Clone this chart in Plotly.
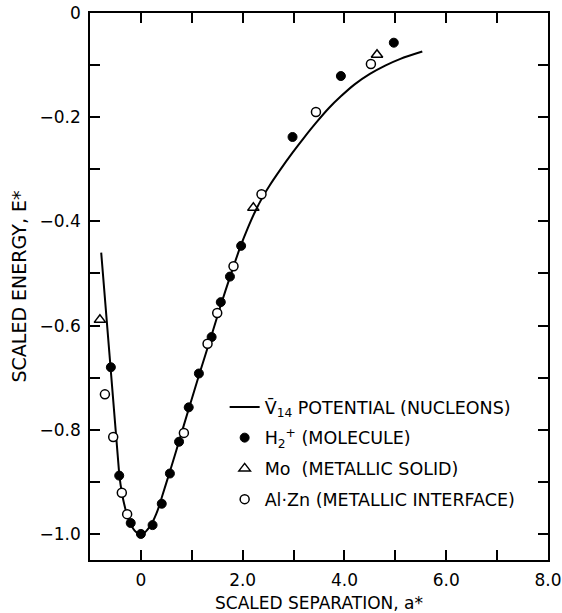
import plotly.graph_objects as go

# V14 potential curve (nucleons)
curve_x = [-0.78, -0.43, -0.40, -0.36, -0.32, -0.28, -0.24, -0.20, -0.15, -0.10, -0.05, 0.0,
           0.05, 0.10, 0.16, 0.23, 0.30, 0.36, 0.41, 0.57, 0.75, 0.94, 1.14, 1.39, 1.57, 1.75,
           1.95, 2.10, 2.25, 2.40, 2.53, 2.73, 2.98, 3.20, 3.44, 3.70, 3.93, 4.20, 4.50, 4.80,
           5.10, 5.53]
curve_y = [-0.46, -0.88, -0.905, -0.928, -0.946, -0.961, -0.972, -0.981, -0.990, -0.996, -0.999, -1.0,
           -0.999, -0.995, -0.988, -0.977, -0.962, -0.946, -0.930, -0.880, -0.822, -0.760, -0.696,
           -0.618, -0.561, -0.507, -0.450, -0.413, -0.380, -0.352, -0.331, -0.302, -0.268, -0.240,
           -0.211, -0.182, -0.160, -0.137, -0.117, -0.101, -0.088, -0.074]

# H2+ (molecule)
h2_x = [-0.59, -0.426, -0.20, 0.0, 0.23, 0.41, 0.57, 0.75, 0.94, 1.14, 1.39, 1.57, 1.75, 1.97,
        2.98, 3.93, 4.97]
h2_y = [-0.680, -0.888, -0.979, -1.0, -0.983, -0.942, -0.884, -0.823, -0.757, -0.692, -0.622,
        -0.555, -0.506, -0.447, -0.238, -0.121, -0.057]

# Mo (metallic solid)
mo_x = [-0.805, 2.21, 4.64]
mo_y = [-0.589, -0.374, -0.080]

# Al-Zn (metallic interface)
alzn_x = [-0.707, -0.544, -0.375, -0.27, 0.845, 1.31, 1.50, 1.82, 2.37, 3.44, 4.52]
alzn_y = [-0.732, -0.814, -0.921, -0.962, -0.806, -0.635, -0.576, -0.486, -0.348, -0.190, -0.098]

x_tickvals = [0, 2, 4, 6, 8]
x_ticktext = ["0", "2.0", "4.0", "6.0", "8.0"]
y_tickvals = [0, -0.2, -0.4, -0.6, -0.8, -1.0]
y_ticktext = ["0", "\u22120.2", "\u22120.4", "\u22120.6", "\u22120.8", "\u22121.0"]

FONT = "DejaVu Sans, Verdana, sans-serif"

fig = go.Figure()
fig.add_trace(go.Scatter(x=curve_x, y=curve_y, mode="lines",
                         line=dict(color="black", width=2, shape="spline", smoothing=0.8),
                         name="V\u0304<sub>14</sub> POTENTIAL (NUCLEONS)", legendgroup="a"))
fig.add_trace(go.Scatter(x=h2_x, y=h2_y, mode="markers",
                         marker=dict(symbol="circle", size=9, color="black", line=dict(color="black", width=1)),
                         name="H<sub>2</sub><sup>+</sup> (MOLECULE)", legendgroup="b"))
fig.add_trace(go.Scatter(x=mo_x, y=mo_y, mode="markers",
                         marker=dict(symbol="triangle-up-open", size=10, color="black", line=dict(width=1.5)),
                         name="Mo\u00a0\u00a0(METALLIC SOLID)", legendgroup="c"))
fig.add_trace(go.Scatter(x=alzn_x, y=alzn_y, mode="markers",
                         marker=dict(symbol="circle", size=9, color="white", line=dict(color="black", width=1.5)),
                         name="Al\u00b7Zn (METALLIC INTERFACE)", legendgroup="d"))

axis_common = dict(showgrid=False, zeroline=False, showline=True, linecolor="black", linewidth=1.5,
                   ticks="inside", ticklen=10, tickwidth=1.5, tickcolor="black", mirror="ticks",
                   automargin=False, ticklabelstandoff=4,
                   tickfont=dict(family=FONT, size=17, color="black"))

fig.update_xaxes(range=[-1.0, 8.0], tickmode="array", tickvals=x_tickvals, ticktext=x_ticktext,
                 minor=dict(tick0=0, dtick=1, ticks="inside", ticklen=10, tickwidth=1.5, tickcolor="black"),
                 title=dict(text="SCALED SEPARATION, a*", font=dict(family=FONT, size=17, color="black"), standoff=8),
                 **axis_common)
fig.update_yaxes(range=[-1.05, 0.0], tickmode="array", tickvals=y_tickvals, ticktext=y_ticktext,
                 minor=dict(tick0=0, dtick=0.1, ticks="inside", ticklen=10, tickwidth=1.5, tickcolor="black"),
                 title=dict(text="SCALED ENERGY, E*", font=dict(family=FONT, size=19, color="black"), standoff=8),
                 **axis_common)

fig.update_layout(
    width=562, height=613,
    margin=dict(l=90, r=14, t=13, b=53),
    paper_bgcolor="white", plot_bgcolor="white",
    showlegend=True,
    legend=dict(x=0.294, y=0.3126, xanchor="left", yanchor="top", bgcolor="rgba(0,0,0,0)",
                font=dict(family=FONT, size=17.5, color="black"), tracegroupgap=5,
                itemwidth=30),
)

fig.write_html("out.html", config={"displayModeBar": False},
               post_script="document.body.style.margin='0';document.body.style.overflow='hidden';")
